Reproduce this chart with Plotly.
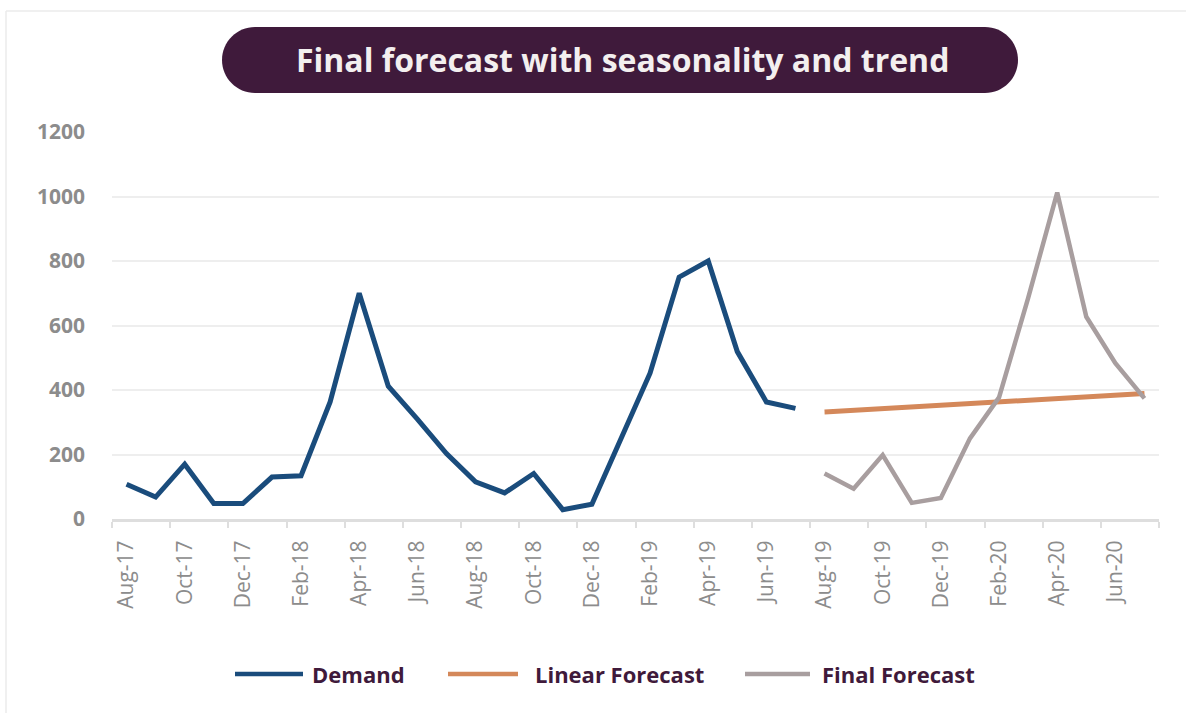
import plotly.graph_objects as go

# Monthly periods (Aug-17 .. Jul-20)
months = [
    "Aug-17", "Sep-17", "Oct-17", "Nov-17", "Dec-17", "Jan-18", "Feb-18", "Mar-18",
    "Apr-18", "May-18", "Jun-18", "Jul-18", "Aug-18", "Sep-18", "Oct-18", "Nov-18",
    "Dec-18", "Jan-19", "Feb-19", "Mar-19", "Apr-19", "May-19", "Jun-19", "Jul-19",
    "Aug-19", "Sep-19", "Oct-19", "Nov-19", "Dec-19", "Jan-20", "Feb-20", "Mar-20",
    "Apr-20", "May-20", "Jun-20", "Jul-20",
]
demand_months = months[:24]
forecast_months = months[24:]

demand = [108, 68, 170, 48, 48, 130, 134, 363, 700, 412, 310, 203,
          115, 81, 141, 29, 46, 250, 452, 750, 800, 519, 363, 343]
linear_forecast = [332, 337, 342, 347, 353, 358, 363, 368, 373, 379, 384, 389]
final_forecast = [141, 94, 198, 50, 65, 250, 377, 685, 1012, 627, 483, 374]

series_names = ["Demand", "Linear Forecast", "Final Forecast"]
series_colors = ["#1A4C7C", "#D4885A", "#A89E9F"]

title_text = "Final forecast with seasonality and trend"
y_ticks = [0, 200, 400, 600, 800, 1000, 1200]

W, H = 1186, 713
ML, MR, MT, MB = 112, 27, 132, 194
PW, PH = W - ML - MR, H - MT - MB


def px_x(x):
    return (x - ML) / PW


def px_y(y):
    return (H - MB - y) / PH


fig = go.Figure()
for name, xs, ys, color, width in [
    (series_names[0], demand_months, demand, series_colors[0], 5),
    (series_names[1], forecast_months, linear_forecast, series_colors[1], 5),
    (series_names[2], forecast_months, final_forecast, series_colors[2], 4.5),
]:
    fig.add_trace(go.Scatter(
        x=xs, y=ys, mode="lines", name=name, showlegend=False,
        line=dict(color=color, width=width), cliponaxis=False,
    ))

shapes = []
annotations = []

# Outer frame edges (left and top)
shapes.append(dict(type="line", xref="paper", yref="paper",
                   x0=px_x(6), x1=px_x(6), y0=px_y(11), y1=px_y(713),
                   line=dict(color="#EBEBEB", width=1.5), layer="below"))
shapes.append(dict(type="line", xref="paper", yref="paper",
                   x0=px_x(6), x1=px_x(1186), y0=px_y(11), y1=px_y(11),
                   line=dict(color="#EBEBEB", width=1.5), layer="below"))

# Pill-shaped title banner
half_len, r = 398, 33
k = 0.5523 * r
s = half_len - r
pill = (f"M {-s},{-r} L {s},{-r} C {s + k},{-r} {half_len},{-k} {half_len},0 "
        f"C {half_len},{k} {s + k},{r} {s},{r} L {-s},{r} "
        f"C {-s - k},{r} {-half_len},{k} {-half_len},0 "
        f"C {-half_len},{-k} {-s - k},{-r} {-s},{-r} Z")
shapes.append(dict(type="path", xref="paper", yref="paper",
                   xsizemode="pixel", ysizemode="pixel",
                   xanchor=px_x(620), yanchor=px_y(60), path=pill,
                   fillcolor="#3F1A3B", line=dict(width=0)))
annotations.append(dict(text=f"<b>{title_text}</b>", xref="paper", yref="paper",
                        x=px_x(622), y=px_y(59), showarrow=False,
                        xanchor="center", yanchor="middle",
                        font=dict(family="Open Sans", size=32, color="#F3EFEF")))

# Legend drawn under the axis
legend_items = [(235, 303, 310), (448, 518, 533), (745, 810, 820)]
for (lx0, lx1, tx), name, color in zip(legend_items, series_names, series_colors):
    shapes.append(dict(type="line", xref="paper", yref="paper",
                       x0=px_x(lx0), x1=px_x(lx1), y0=px_y(674), y1=px_y(674),
                       line=dict(color=color, width=4.5)))
    annotations.append(dict(text=f"<b>{name}</b>", xref="paper", yref="paper",
                            x=px_x(tx), y=px_y(674), showarrow=False,
                            xanchor="left", yanchor="middle",
                            font=dict(family="Open Sans", size=22, color="#3F1A3B")))

fig.update_layout(
    width=W, height=H,
    margin=dict(l=ML, r=MR, t=MT, b=MB, pad=0),
    paper_bgcolor="white", plot_bgcolor="white",
    showlegend=False,
    shapes=shapes, annotations=annotations,
    xaxis=dict(
        type="category", categoryorder="array", categoryarray=months,
        range=[-0.5, len(months) - 0.5],
        tickmode="linear", tick0=0, dtick=2, tickson="boundaries",
        tickangle=-90, ticks="outside", ticklen=6, tickwidth=2, tickcolor="#DEDEDE",
        showline=True, linecolor="#DEDEDE", linewidth=3,
        showgrid=False, ticklabelstandoff=10,
        tickfont=dict(family="Open Sans", size=21, color="#8C8C8C"),
    ),
    yaxis=dict(
        range=[0, 1200], tickvals=y_ticks,
        showgrid=True, gridcolor="#EEEEEE", gridwidth=1.5,
        zeroline=False, showline=False, ticks="",
        ticklabelstandoff=26,
        tickfont=dict(family="Open Sans", size=21, color="#8C8C8C", weight=700),
    ),
)

fig.write_html("out.html")
